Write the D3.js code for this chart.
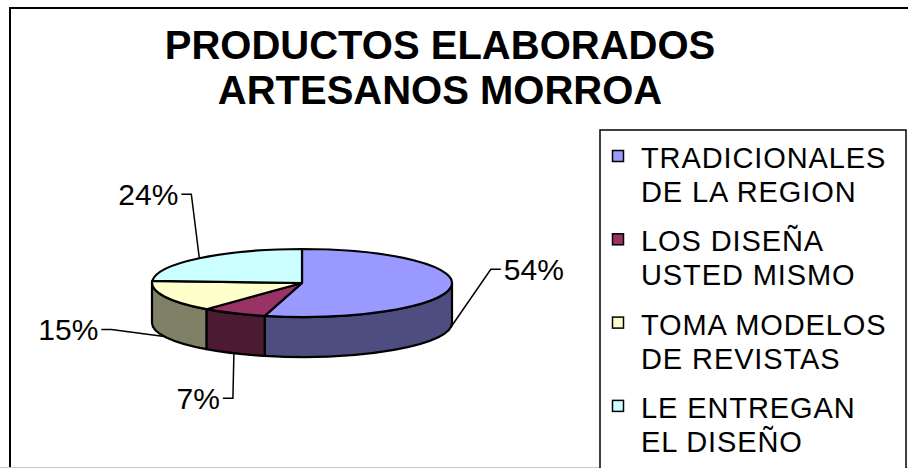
<!DOCTYPE html>
<html>
<head>
<meta charset="utf-8">
<script src="https://cdn.jsdelivr.net/npm/d3@7"></script>
<style>
  html, body { margin: 0; padding: 0; background: #fff; }
  svg { display: block; font-family: "Liberation Sans", Arial, sans-serif; }
</style>
</head>
<body>
<svg id="chart" width="908" height="468"></svg>
<script>
const TITLE = ['PRODUCTOS ELABORADOS', 'ARTESANOS MORROA'];
const CATEGORIES = [
  'TRADICIONALES\nDE LA REGION',
  'LOS DISEÑA\nUSTED MISMO',
  'TOMA MODELOS\nDE REVISTAS',
  'LE ENTREGAN\nEL DISEÑO',
];
const VALUES = [54, 7, 15, 24];
const COLORS = ['#9999FF', '#993366', '#FFFFCC', '#CCFFFF'];
// where each percent label's leader bends, relative to its anchor on the pie
const LABEL_OFFSETS = [[40, -58], [-1, 45], [-53, -7], [-8, -64]];

const W = 908, H = 468;
const pieC = { x: 302, y: 283 };
const rx = 150, ry = 34, depth = 40;

const svg = d3.select('#chart');

// frame
svg.append('rect')
  .attr('x', 10).attr('y', 8)
  .attr('width', W + 20).attr('height', H + 20)
  .attr('fill', '#fff').attr('stroke', '#000').attr('stroke-width', 2);
svg.append('line')
  .attr('x1', 0).attr('x2', W).attr('y1', H - 0.5).attr('y2', H - 0.5)
  .attr('stroke', '#c8c8c8').attr('stroke-width', 1);

// title
svg.append('g').selectAll('text').data(TITLE).join('text')
  .attr('x', 440)
  .attr('y', (d, i) => 59 + i * 45)
  .attr('text-anchor', 'middle')
  .attr('font-size', 40)
  .attr('font-weight', 'bold')
  .attr('fill', '#000')
  .text(d => d);

// pie
const pie = d3.pie().sort(null).value(d => d);
const arcs = pie(VALUES);

const pt = (a, dy = 0) => [pieC.x + rx * Math.sin(a), pieC.y - ry * Math.cos(a) + dy];

function topPath(d) {
  const s = pt(d.startAngle), e = pt(d.endAngle);
  const large = d.endAngle - d.startAngle > Math.PI ? 1 : 0;
  return `M${pieC.x},${pieC.y}L${s}A${rx},${ry} 0 ${large} 1 ${e}Z`;
}

function sidePath(d) {
  const a = Math.max(d.startAngle, Math.PI / 2);
  const b = Math.min(d.endAngle, Math.PI * 3 / 2);
  if (b <= a) return null;
  const s = pt(a), e = pt(b), e2 = pt(b, depth), s2 = pt(a, depth);
  return `M${s}A${rx},${ry} 0 0 1 ${e}L${e2}A${rx},${ry} 0 0 0 ${s2}Z`;
}

const shade = c => {
  const r = d3.rgb(c);
  return d3.rgb(r.r * 0.5, r.g * 0.5, r.b * 0.5).formatHex();
};

const g = svg.append('g');
g.selectAll('path.side').data(arcs.filter(d => sidePath(d))).join('path')
  .attr('class', 'side')
  .attr('d', sidePath)
  .attr('fill', d => shade(COLORS[d.index]))
  .attr('stroke', '#000').attr('stroke-width', 2.2).attr('stroke-linejoin', 'round');

g.selectAll('path.top').data(arcs).join('path')
  .attr('class', 'top')
  .attr('d', topPath)
  .attr('fill', d => COLORS[d.index])
  .attr('stroke', '#000').attr('stroke-width', 2.2).attr('stroke-linejoin', 'round');

// percent labels with leader lines
const labels = svg.append('g');
arcs.forEach(d => {
  const mid = (d.startAngle + d.endAngle) / 2;
  const anchor = pt(mid, Math.cos(mid) < 0 ? depth : 0);
  const [ox, oy] = LABEL_OFFSETS[d.index];
  const elbow = [anchor[0] + ox, anchor[1] + oy];
  const dir = ox > 0 ? 1 : -1;
  const tickEnd = [elbow[0] + dir * 10, elbow[1]];
  labels.append('path')
    .attr('d', d3.line()([anchor, elbow, tickEnd]))
    .attr('fill', 'none').attr('stroke', '#000').attr('stroke-width', 1.5);
  labels.append('text')
    .attr('x', tickEnd[0] + dir * 3)
    .attr('y', elbow[1])
    .attr('dy', '0.36em')
    .attr('text-anchor', dir > 0 ? 'start' : 'end')
    .attr('font-size', 30)
    .attr('fill', '#000')
    .text(`${d.data}%`);
});

// legend
const legend = svg.append('g');
legend.append('rect')
  .attr('x', 600).attr('y', 130)
  .attr('width', 306).attr('height', H)
  .attr('fill', '#fff').attr('stroke', '#000').attr('stroke-width', 1.5);

CATEGORIES.forEach((cat, i) => {
  const row = legend.append('g').attr('transform', `translate(0,${i * 83.3})`);
  row.append('rect')
    .attr('x', 612.5).attr('y', 150.5)
    .attr('width', 11).attr('height', 11)
    .attr('fill', COLORS[i]).attr('stroke', '#000').attr('stroke-width', 1.5);
  row.selectAll('text').data(cat.split('\n')).join('text')
    .attr('x', 641)
    .attr('y', (d, j) => 168 + j * 34)
    .attr('font-size', 29)
    .attr('letter-spacing', 0.9)
    .attr('fill', '#000')
    .text(d => d);
});
</script>
</body>
</html>
